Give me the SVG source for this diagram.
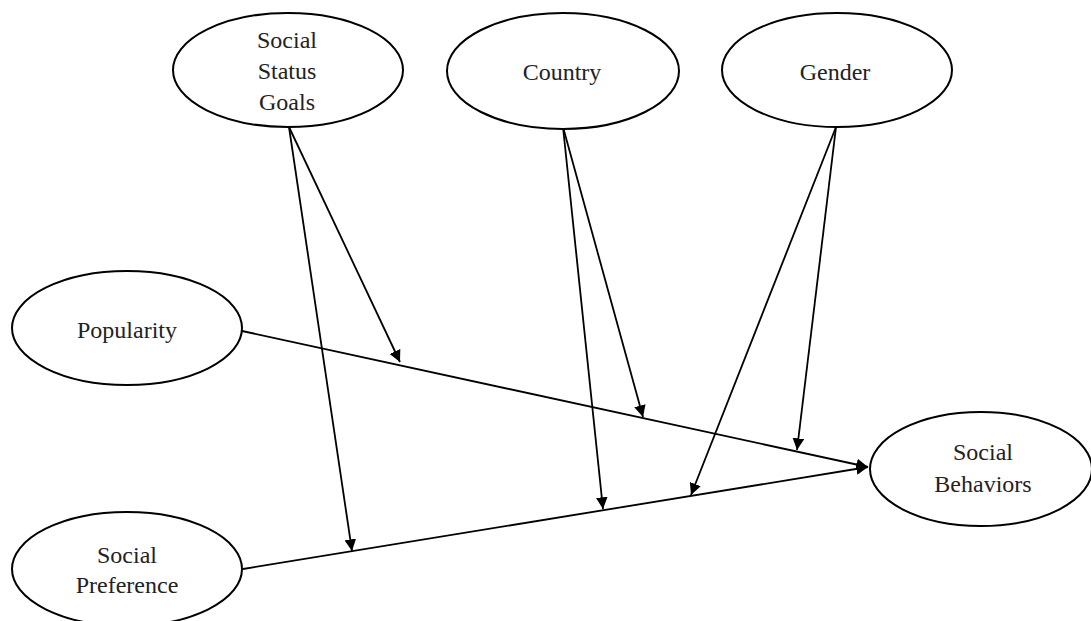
<svg xmlns="http://www.w3.org/2000/svg" width="1091" height="621" viewBox="0 0 1091 621">
<style>
.node ellipse{fill:#fff;stroke:#000;stroke-width:2}
.node text{font-family:"Liberation Serif",serif;font-size:24px;fill:#222;text-anchor:middle}
.edges line{stroke:#000;stroke-width:1.8;marker-end:url(#ah)}
</style>
<defs>
<marker id="ah" viewBox="0 0 10 10" refX="10" refY="5" markerWidth="6.5" markerHeight="6.5" markerUnits="strokeWidth" orient="auto">
<path d="M0,0 L10,5 L0,10 z" fill="#000"/>
</marker>
</defs>
<rect width="1091" height="621" fill="#fff"/>
<g class="edges" id="connectors">
<line x1="242" y1="331" x2="868" y2="467"/>
<line x1="243" y1="569" x2="868" y2="467"/>
<line x1="289" y1="127" x2="400" y2="362"/>
<line x1="289" y1="127" x2="352" y2="551"/>
<line x1="563" y1="127" x2="643" y2="417"/>
<line x1="563" y1="127" x2="603" y2="509"/>
<line x1="836" y1="127" x2="691" y2="495"/>
<line x1="836" y1="127" x2="797" y2="450"/>
</g>
<g class="node" id="ssg">
<ellipse cx="288" cy="70" rx="115" ry="57"/>
<text x="287" y="48">Social</text>
<text x="287" y="79">Status</text>
<text x="287" y="110">Goals</text>
</g>
<g class="node" id="country">
<ellipse cx="563" cy="71" rx="116" ry="58"/>
<text x="562" y="80">Country</text>
</g>
<g class="node" id="gender">
<ellipse cx="837" cy="70" rx="115" ry="57"/>
<text x="835" y="80">Gender</text>
</g>
<g class="node" id="popularity">
<ellipse cx="127" cy="328" rx="115" ry="57"/>
<text x="127" y="338">Popularity</text>
</g>
<g class="node" id="preference">
<ellipse cx="127" cy="569" rx="115" ry="57"/>
<text x="127" y="563">Social</text>
<text x="127" y="593">Preference</text>
</g>
<g class="node" id="behaviors">
<ellipse cx="981" cy="469" rx="111" ry="57"/>
<text x="983" y="460">Social</text>
<text x="983" y="492">Behaviors</text>
</g>
</svg>
